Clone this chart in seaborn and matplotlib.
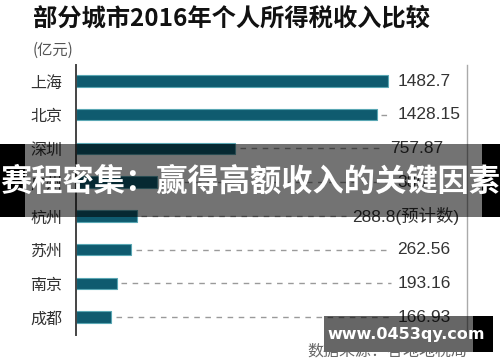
import matplotlib
matplotlib.use("Agg")
import matplotlib.pyplot as plt
from matplotlib.patches import Rectangle
import pandas as pd
import seaborn as sns

cities = ["上海", "北京", "深圳", "广州", "杭州", "苏州", "南京", "成都"]
values = [1482.7, 1428.15, 757.87, 385.0, 288.8, 262.56, 193.16, 166.93]
value_labels = ["1482.7", "1428.15", "757.87", "385", "288.8(预计数)", "262.56", "193.16", "166.93"]
label_x = [1526, 1526, 1492, 1526, 1312, 1526, 1526, 1526]

title = "部分城市2016年个人所得税收入比较"
unit = "(亿元)"
source = "数据来源：各地地税局"
banner = "赛程密集：赢得高额收入的关键因素"
watermark = "www.0453qy.com"

W, H = 500, 362
sns.set_theme(style="white")
plt.rcParams["font.family"] = ["Noto Sans CJK SC", "DejaVu Sans"]
num_font = ["Liberation Sans", "Noto Sans CJK SC"]

df = pd.DataFrame({"city": cities, "value": values})

fig = plt.figure(figsize=(W / 100, H / 100), dpi=100)
ax = fig.add_axes([76 / W, 1 - 335 / H, (467 - 76) / W, (335 - 65) / H])

sns.barplot(data=df, x="value", y="city", orient="h", color="#0f5b6f",
            saturation=1, width=0.34, edgecolor="#5aa7b4", linewidth=0.8, ax=ax)

ax.set_xlim(0, 1858)
ax.set_ylim(7.53, -0.475)
ax.set_xlabel("")
ax.set_ylabel("")
ax.set_xticks([])
ax.tick_params(axis="y", length=0, pad=10, labelsize=11.5, labelcolor="#333333")
for s in ["top", "bottom"]:
    ax.spines[s].set_visible(False)
ax.spines["left"].set_color("#444444")
ax.spines["left"].set_linewidth(1.4)
ax.spines["right"].set_color("#aaaaaa")
ax.spines["right"].set_linewidth(1.0)

# dashed leaders + value labels
for i, (v, lab, lx) in enumerate(zip(values, value_labels, label_x)):
    start, end = v + 22, lx - 30
    if end - start > 15:
        ax.plot([start, end], [i, i], ls=(0, (4, 4)), color="#9a9a9a", lw=1.0)
    ax.text(lx, i, lab, ha="left", va="center", fontsize=12.5,
            color="#333333", family=num_font)

fig.text(33 / W, 1 - 19 / H, title, ha="left", va="center", fontsize=17.5,
         fontweight="bold", color="#111111")
fig.text(33 / W, 1 - 50 / H, unit, ha="left", va="center", fontsize=11,
         color="#555555")
fig.text(467 / W, 1 - 352 / H, source, ha="right", va="center", fontsize=11.5,
         color="#666666")

# overlay banner
fig.add_artist(Rectangle((25 / W, 1 - 217 / H), 457 / W, 73 / H,
                         transform=fig.transFigure, color="#000000", alpha=0.55, lw=0))
fig.add_artist(Rectangle((0, 1 - 217 / H), 25 / W, 73 / H,
                         transform=fig.transFigure, color="#000000", lw=0))
fig.add_artist(Rectangle((482 / W, 1 - 217 / H), 18 / W, 73 / H,
                         transform=fig.transFigure, color="#000000", lw=0))
fig.text(0.5, 1 - 182 / H, banner, ha="center", va="center", fontsize=22.5,
         fontweight="bold", color="white")

# watermark
fig.add_artist(Rectangle((324 / W, 1 - 352 / H), 149 / W, 36 / H,
                         transform=fig.transFigure, color="#000000", alpha=0.6, lw=0))
fig.add_artist(Rectangle((473 / W, 1 - 352 / H), 20 / W, 36 / H,
                         transform=fig.transFigure, color="#000000", lw=0))
fig.text(406 / W, 1 - 334 / H, watermark, ha="center", va="center", fontsize=11.5,
         fontweight="bold", color="white", family=["DejaVu Sans"])

fig.savefig("out.png", dpi=100)
